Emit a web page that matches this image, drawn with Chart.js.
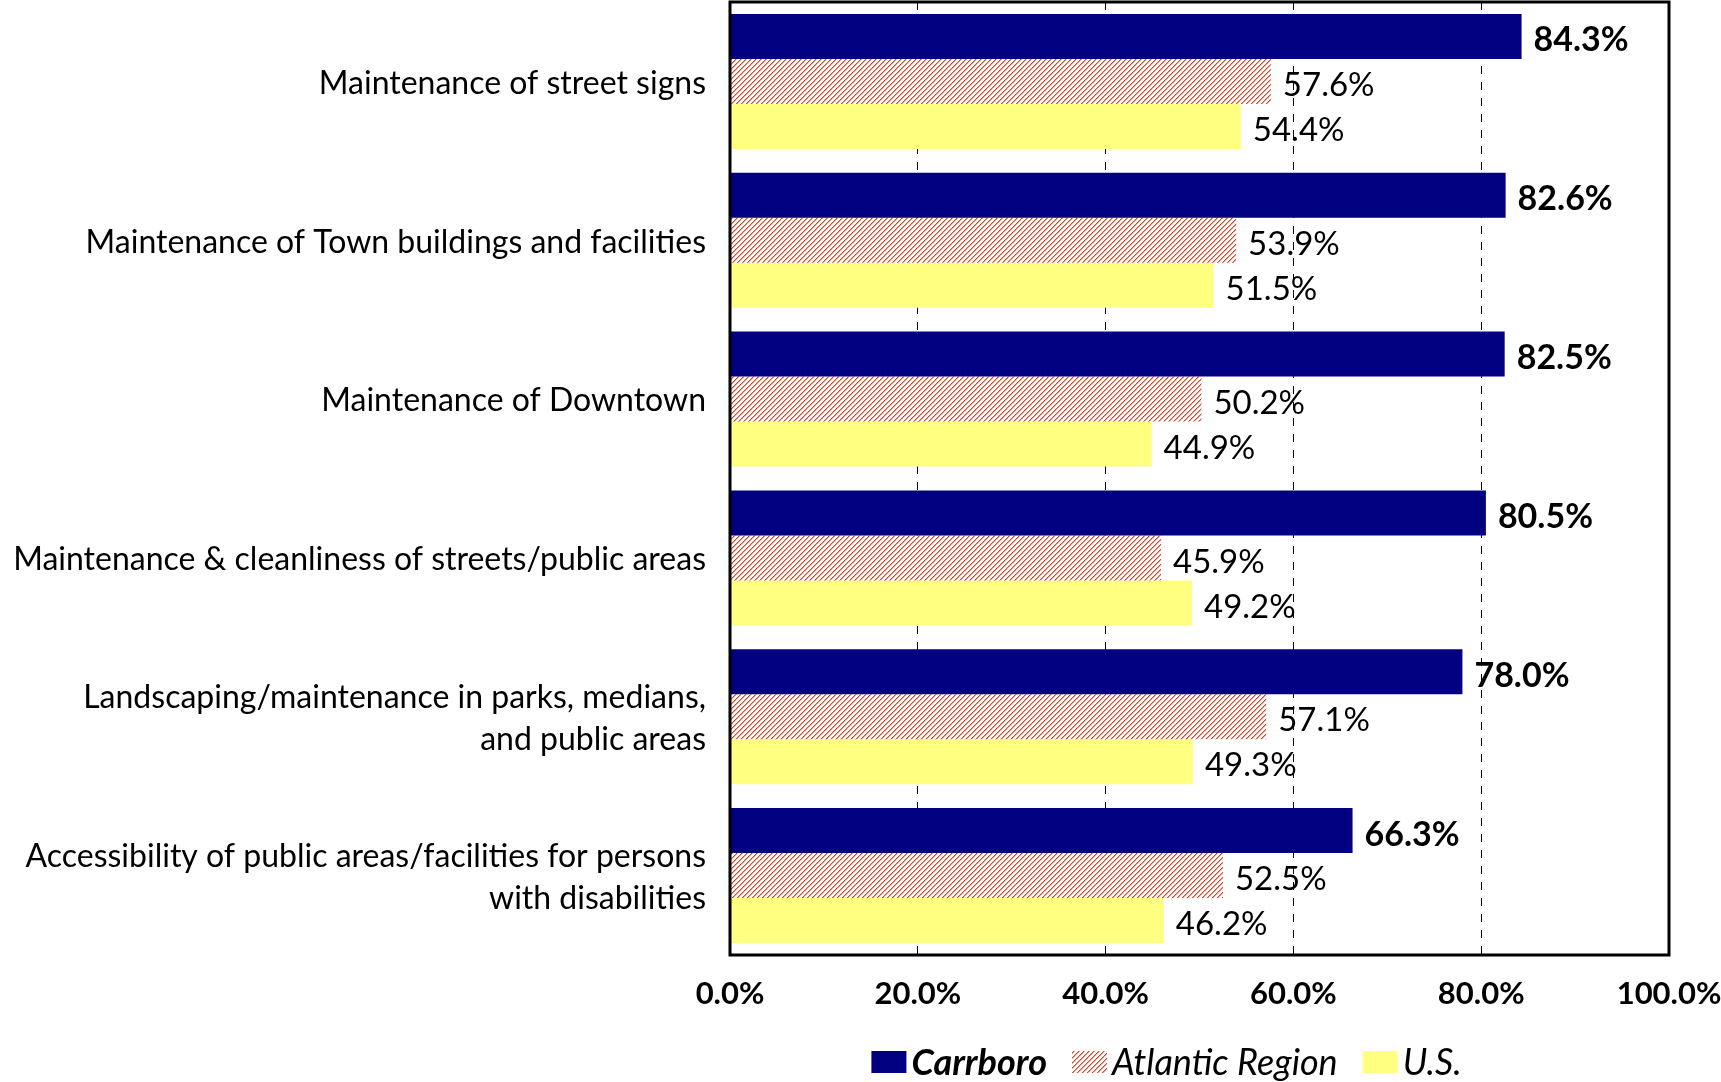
<!DOCTYPE html>
<html>
<head>
<meta charset="utf-8">
<script src="https://cdn.jsdelivr.net/npm/chart.js@4/dist/chart.umd.min.js"></script>
<style>
  html, body { margin: 0; padding: 0; background: #fff; }
  #wrap { width: 1721px; height: 1082px; position: relative; }
</style>
</head>
<body>
<div id="wrap"><canvas id="maint-chart"></canvas></div>
<script>
"use strict";

////////  DATA ///////////
const categories = [
  'Maintenance of street signs',
  'Maintenance of Town buildings and facilities',
  'Maintenance of Downtown',
  'Maintenance & cleanliness of streets/public areas',
  ['Landscaping/maintenance in parks, medians,', 'and public areas'],
  ['Accessibility of public areas/facilities for persons', 'with disabilities'],
];
const series_names = ['Carrboro', 'Atlantic Region', 'U.S.'];
const carrboro_values = [84.3, 82.6, 82.5, 80.5, 78.0, 66.3];
const atlantic_values = [57.6, 53.9, 50.2, 45.9, 57.1, 52.5];
const us_values = [54.4, 51.5, 44.9, 49.2, 49.3, 46.2];
const x_ticks = [0, 20, 40, 60, 80, 100];

const FONT = 'Lato, "Open Sans", sans-serif';

// red diagonal hatch used for the Atlantic Region bars (5px repeat, "/" direction)
function make_hatch() {
  const n = 5;
  const c = document.createElement('canvas');
  c.width = n;
  c.height = n;
  const g = c.getContext('2d');
  g.fillStyle = '#ffffff';
  g.fillRect(0, 0, n, n);
  for (let i = 0; i < n; i++) {
    g.fillStyle = '#d8432a';
    g.fillRect(i, n - 1 - i, 1, 1);
    g.fillStyle = '#f0a08c';
    g.fillRect((i + 1) % n, n - 1 - i, 1, 1);
  }
  return g.createPattern(c, 'repeat');
}
const hatch = make_hatch();

const bar_colors = ['#000080', hatch, '#ffff80'];

// value labels at the end of each bar
const value_labels = {
  id: 'value_labels',
  afterDatasetsDraw(chart) {
    const ctx = chart.ctx;
    ctx.save();
    ctx.fillStyle = '#000';
    ctx.textAlign = 'left';
    ctx.textBaseline = 'middle';
    chart.data.datasets.forEach((ds, di) => {
      const meta = chart.getDatasetMeta(di);
      ctx.font = (di === 0 ? 'bold 34px ' : '33px ') + FONT;
      meta.data.forEach((bar, i) => {
        ctx.fillText(ds.data[i].toFixed(1) + '%', bar.x + 12, bar.y + 4);
      });
    });
    ctx.restore();
  }
};

// black frame around the plot area
const plot_frame = {
  id: 'plot_frame',
  afterDraw(chart) {
    const a = chart.chartArea;
    const ctx = chart.ctx;
    ctx.save();
    ctx.strokeStyle = '#000';
    ctx.lineWidth = 3;
    ctx.strokeRect(a.left, a.top, a.right - a.left, a.bottom - a.top);
    ctx.restore();
  }
};

// legend under the axis: Carrboro in bold italic, others italic
const bottom_legend = {
  id: 'bottom_legend',
  afterDraw(chart) {
    const ctx = chart.ctx;
    const a = chart.chartArea;
    const box_w = 35, box_h = 22, gap = 5, item_gap = 25;
    const fonts = series_names.map((n, i) => (i === 0 ? 'italic bold ' : 'italic ') + '36px ' + FONT);
    const widths = series_names.map((n, i) => {
      ctx.font = fonts[i];
      return box_w + gap + ctx.measureText(n).width;
    });
    const total = widths.reduce((s, w) => s + w, 0) + item_gap * (widths.length - 1);
    let x = (a.left + a.right) / 2 - 33 - total / 2;
    const y = 1062;
    ctx.save();
    series_names.forEach((name, i) => {
      ctx.fillStyle = bar_colors[i];
      ctx.fillRect(x, y - box_h / 2, box_w, box_h);
      ctx.font = fonts[i];
      ctx.fillStyle = '#000';
      ctx.textAlign = 'left';
      ctx.textBaseline = 'middle';
      ctx.fillText(name, x + box_w + gap, y + 1);
      x += widths[i] + item_gap;
    });
    ctx.restore();
  }
};

const chart_data = {
  labels: categories,
  datasets: [carrboro_values, atlantic_values, us_values].map((vals, i) => ({
    label: series_names[i],
    data: vals,
    backgroundColor: bar_colors[i],
    borderWidth: 0,
    categoryPercentage: 0.85,
    barPercentage: 1.0,
  })),
};

const chart_config = {
  type: 'bar',
  data: chart_data,
  options: {
    indexAxis: 'y',
    responsive: true,
    maintainAspectRatio: false,
    animation: false,
    layout: {
      padding: { top: 2, right: 52, bottom: 0, left: 0 }
    },
    scales: {
      x: {
        min: 0,
        max: 100,
        afterBuildTicks: (scale) => {
          scale.ticks = x_ticks.map(v => ({ value: v }));
        },
        afterFit: (scale) => {
          scale.height = 127;
          scale.paddingLeft = 0;
          scale.paddingRight = 0;
        },
        grid: {
          color: '#000',
          lineWidth: 1,
          drawTicks: false,
        },
        border: { display: false, dash: [8, 8] },
        ticks: {
          padding: 20,
          color: '#000',
          maxRotation: 0,
          font: { family: FONT, size: 31, weight: 'bold' },
          callback: (v) => v.toFixed(1) + '%'
        }
      },
      y: {
        afterFit: (scale) => {
          scale.width = 730;
          scale.paddingTop = 0;
          scale.paddingBottom = 0;
        },
        grid: { display: false, drawTicks: false },
        border: { display: false },
        ticks: {
          padding: 24,
          labelOffset: 2,
          color: '#000',
          font: { family: FONT, size: 32, lineHeight: 1.3 }
        }
      }
    },
    plugins: {
      legend: { display: false },
      tooltip: { enabled: false },
      title: { display: false }
    }
  },
  plugins: [value_labels, plot_frame, bottom_legend]
};

const maint_chart = new Chart(document.getElementById('maint-chart').getContext('2d'), chart_config);
</script>
</body>
</html>
